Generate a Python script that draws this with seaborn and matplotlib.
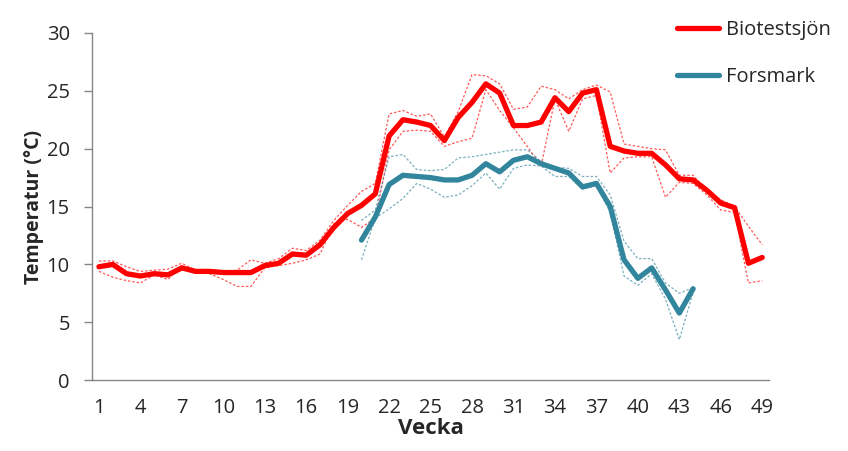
import matplotlib
matplotlib.use('Agg')
import matplotlib.pyplot as plt
import numpy as np
import pandas as pd
import seaborn as sns

# weekly water temperature, mean with min/max band
weeks_bio = list(range(1, 50))
bio_mean = [9.8, 10.0, 9.2, 9.0, 9.2, 9.1, 9.7, 9.4, 9.4, 9.3,
            9.3, 9.3, 9.9, 10.1, 10.9, 10.8, 11.7, 13.2, 14.4, 15.1,
            16.1, 21.1, 22.5, 22.3, 22.0, 20.7, 22.7, 24.0, 25.6, 24.8,
            22.0, 22.0, 22.3, 24.4, 23.2, 24.8, 25.1, 20.2, 19.8, 19.6,
            19.6, 18.6, 17.4, 17.3, 16.4, 15.3, 14.9, 10.1, 10.6]
bio_max = [10.3, 10.3, 9.8, 9.4, 9.5, 9.6, 10.1, 9.5, 9.5, 9.4,
           9.5, 10.4, 10.1, 10.5, 11.4, 11.2, 12.1, 13.8, 15.1, 16.3,
           17.0, 23.0, 23.3, 22.8, 23.0, 21.0, 23.2, 26.4, 26.3, 25.6,
           23.4, 23.6, 25.4, 25.1, 24.3, 25.1, 25.5, 24.9, 20.4, 20.2,
           20.0, 19.9, 17.7, 17.7, 16.4, 15.6, 15.0, 13.3, 11.7]
bio_min = [9.4, 8.9, 8.6, 8.4, 9.1, 8.7, 9.9, 9.3, 9.2, 8.7,
           8.1, 8.1, 9.7, 9.9, 10.1, 10.4, 10.9, 13.5, 13.9, 13.2,
           14.0, 19.9, 21.5, 21.6, 21.5, 20.2, 20.6, 20.9, 25.1, 23.3,
           21.8, 20.2, 18.5, 24.3, 21.5, 24.3, 24.6, 17.9, 19.2, 19.3,
           19.3, 15.8, 17.1, 17.0, 16.0, 14.7, 14.5, 8.4, 8.6]

weeks_fm = list(range(20, 45))
fm_mean = [12.1, 14.1, 16.9, 17.7, 17.6, 17.5, 17.3, 17.3, 17.7, 18.7,
           18.0, 19.0, 19.3, 18.7, 18.3, 17.9, 16.7, 17.0, 15.0, 10.4,
           8.8, 9.7, 7.8, 5.8, 7.9]
fm_max = [13.8, 14.7, 19.3, 19.5, 18.2, 18.1, 18.2, 19.2, 19.3, 19.5,
          19.7, 19.9, 19.9, 18.9, 18.4, 18.3, 17.6, 17.6, 16.0, 12.0,
          10.5, 10.5, 8.4, 7.5, 8.0]
fm_min = [10.4, 14.0, 14.8, 15.7, 17.0, 16.5, 15.8, 16.0, 16.8, 17.9,
          16.5, 18.3, 18.6, 18.5, 17.6, 17.6, 16.5, 16.8, 14.5, 9.0,
          8.2, 9.2, 7.0, 3.5, 7.6]

xtick_labels = list(range(1, 50, 3))

red = '#FF0000'
blue = '#31859C'

sns.set_style('white')
plt.rcParams['font.family'] = ['Open Sans', 'DejaVu Sans']

bio = pd.DataFrame({'week': weeks_bio, 'mean': bio_mean, 'max': bio_max, 'min': bio_min})
fm = pd.DataFrame({'week': weeks_fm, 'mean': fm_mean, 'max': fm_max, 'min': fm_min})

fig = plt.figure(figsize=(8.48, 4.51), dpi=100)
ax = fig.add_axes([0.1085, 0.157, 0.7985, 0.77])

for df, c in [(bio, red), (fm, blue)]:
    for col in ['max', 'min']:
        sns.lineplot(data=df, x='week', y=col, ax=ax, color=c, lw=0.9, alpha=0.65,
                     linestyle=(0, (2, 1.5)), legend=False)
sns.lineplot(data=bio, x='week', y='mean', ax=ax, color=red, lw=3.8,
             label='Biotestsjön', legend=False)
sns.lineplot(data=fm, x='week', y='mean', ax=ax, color=blue, lw=3.8,
             label='Forsmark', legend=False)

ax.set_xlim(0.5, 49.5)
ax.set_ylim(0, 30)
ax.set_yticks(range(0, 31, 5))
ax.set_xticks(xtick_labels)
ax.set_xticklabels([str(v) for v in xtick_labels])
ax.set_xticks(np.arange(0.5, 50, 1), minor=True)
ax.tick_params(axis='x', which='major', length=0, labelsize=14.5, pad=13)
ax.tick_params(axis='x', which='minor', length=7, color='#868686', width=1)
ax.tick_params(axis='y', which='major', length=6, color='#868686', width=1,
               labelsize=14.5, pad=10, left=True)
for s in ['top', 'right']:
    ax.spines[s].set_visible(False)
for s in ['left', 'bottom']:
    ax.spines[s].set_color('#868686')
    ax.spines[s].set_linewidth(1)

ax.set_xlabel('Vecka', fontsize=16, fontweight='bold', labelpad=0)
ax.set_ylabel('Temperatur (°C)', fontsize=14, fontweight='bold', labelpad=2)

handles, labels = ax.get_legend_handles_labels()
fig.legend(handles, labels, loc='upper left', bbox_to_anchor=(0.777, 0.995),
           frameon=False, fontsize=14.5, handlelength=2.1, labelspacing=1.3,
           handletextpad=0.35)

fig.savefig('out.png', dpi=100)
